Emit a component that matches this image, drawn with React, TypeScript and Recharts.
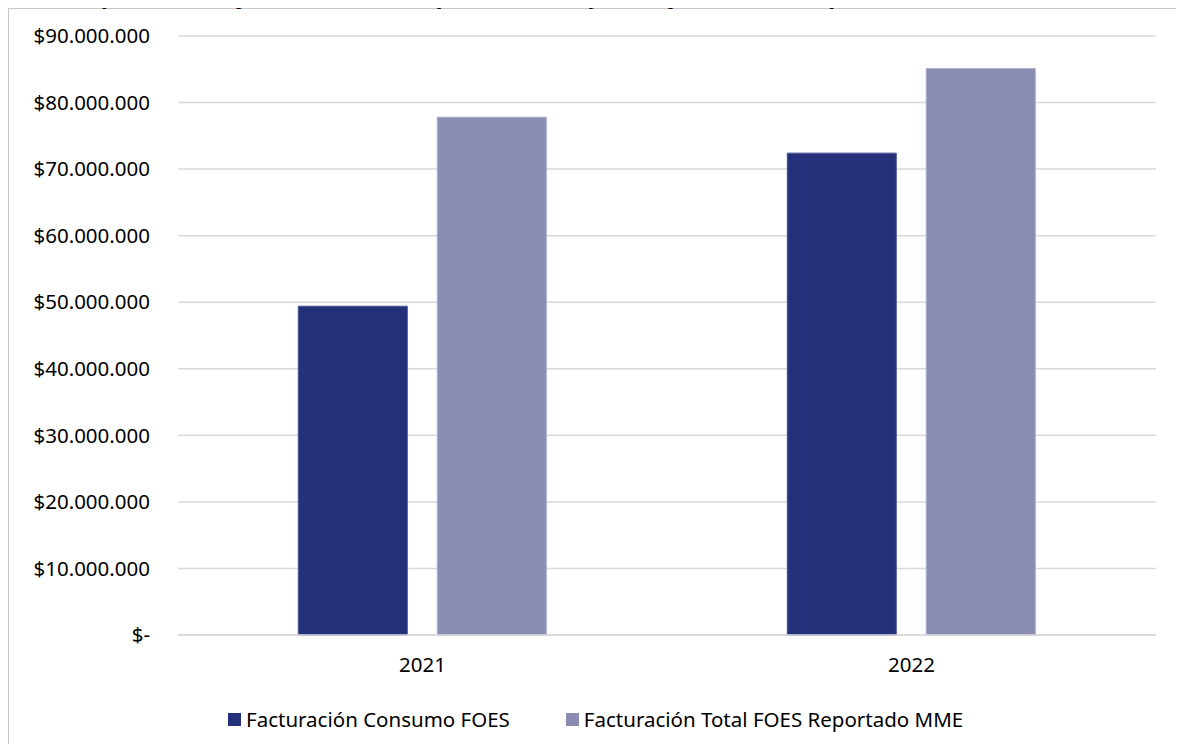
import * as React from "react";
import {
  BarChart,
  Bar,
  XAxis,
  YAxis,
  CartesianGrid,
} from "recharts";

// values
const years = ["2021", "2022"];
const consumoFoes = [49400000, 72400000];
const totalFoesMme = [77800000, 85100000];
const yTicks = [0, 10000000, 20000000, 30000000, 40000000, 50000000, 60000000, 70000000, 80000000, 90000000];
const seriesNames = ["Facturación Consumo FOES", "Facturación Total FOES Reportado MME"];
const seriesColors = ["#25307a", "#8a8cb2"];
const titleText =
  "Gráfico 5. Comparativo de facturación FOES por consumo y total facturación reportado al MME";

const FONT = "'Noto Sans', 'Open Sans', sans-serif";

function formatPeso(v: number) {
  if (v === 0) return "$-";
  return "$" + String(v).replace(/\B(?=(\d{3})+(?!\d))/g, ".");
}

export default function App() {
  const data = years.map((year, i) => ({
    year,
    consumo: consumoFoes[i],
    total: totalFoesMme[i],
  }));

  return (
    <div
      style={{
        position: "relative",
        width: 1184,
        height: 752,
        marginLeft: -8,
        marginTop: -8,
        marginBottom: -8,
        overflow: "hidden",
        background: "#fff",
        fontFamily: FONT,
      }}
    >
      <div style={{ position: "absolute", left: 0, top: 0 }}>
        <BarChart
          width={1184}
          height={752}
          data={data}
          margin={{ top: 36, right: 28, bottom: 0, left: 0 }}
          barCategoryGap="24.6%"
          barGap={30}
        >
          <CartesianGrid vertical={false} stroke="#d9d9d9" strokeWidth={1.5} />
          <XAxis
            dataKey="year"
            height={117}
            axisLine={{ stroke: "#d9d9d9", strokeWidth: 1.5 }}
            tickLine={false}
            tickSize={0}
            tickMargin={22}
            tick={{ fill: "#000", fontSize: 20.5, fontFamily: FONT }}
          />
          <YAxis
            width={178}
            domain={[0, 90000000]}
            ticks={yTicks}
            interval={0}
            axisLine={false}
            tickLine={false}
            tickSize={0}
            tickMargin={28}
            tickFormatter={formatPeso}
            tick={{ fill: "#000", fontSize: 20.5, fontFamily: FONT }}
          />
          <Bar
            dataKey="consumo"
            name={seriesNames[0]}
            fill={seriesColors[0]}
            stroke="#4a538f"
            strokeWidth={1}
            isAnimationActive={false}
          />
          <Bar
            dataKey="total"
            name={seriesNames[1]}
            fill={seriesColors[1]}
            stroke="#a9abcc"
            strokeWidth={1}
            isAnimationActive={false}
          />
        </BarChart>
      </div>

      {/* legend */}
      <div
        style={{
          position: "absolute",
          left: 228,
          top: 705,
          display: "flex",
          alignItems: "center",
          fontSize: 20.5,
          color: "#000",
          whiteSpace: "nowrap",
        }}
      >
        {seriesNames.map((name, i) => (
          <div
            key={name}
            style={{ display: "flex", alignItems: "center", marginRight: i === 0 ? 56 : 0 }}
          >
            <span
              style={{
                display: "inline-block",
                width: 13,
                height: 13,
                background: seriesColors[i],
                marginRight: 5,
              }}
            />
            <span>{name}</span>
          </div>
        ))}
      </div>

      {/* chart frame: only its left and top edges fall inside the picture */}
      <div style={{ position: "absolute", left: 6, top: 6, width: 3, height: 746, background: "#c8c8c8" }} />
      <div style={{ position: "absolute", left: 6, top: 6, width: 1178, height: 3, background: "#c8c8c8" }} />

      {/* title, cut off by the top edge like in the source */}
      <div
        style={{
          position: "absolute",
          left: -62,
          top: -21,
          whiteSpace: "nowrap",
          fontSize: 24,
          fontStyle: "italic",
          fontWeight: 700,
          color: "#000",
          lineHeight: "30px",
        }}
      >
        {titleText}
      </div>
    </div>
  );
}
